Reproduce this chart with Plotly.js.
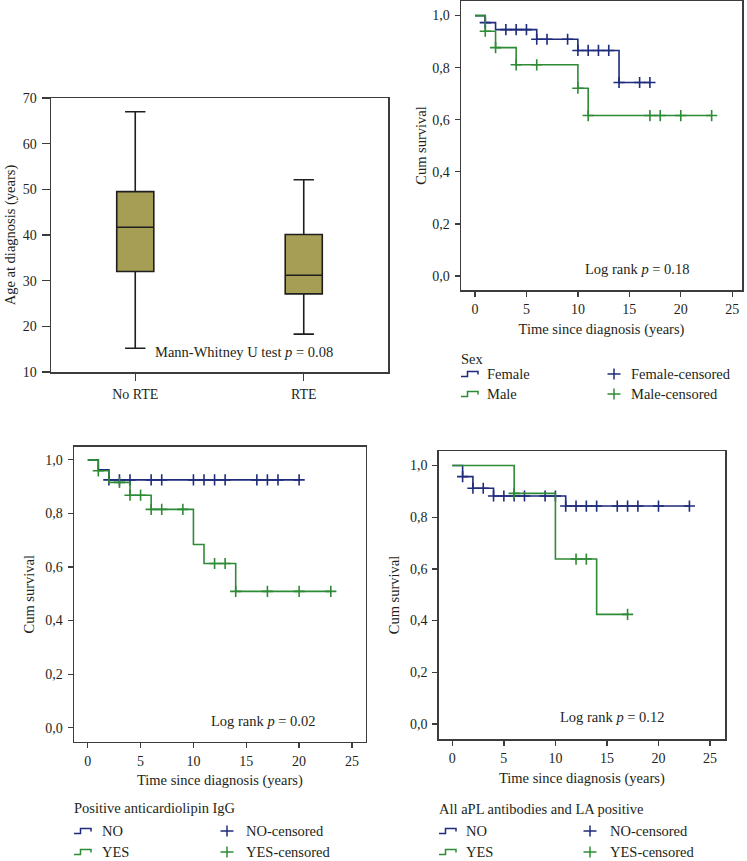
<!DOCTYPE html>
<html>
<head>
<meta charset="utf-8">
<script src="https://cdn.plot.ly/plotly-3.0.1.min.js"></script>
<style>html,body{margin:0;padding:0;background:#fff;}#chart{width:747px;height:861px;}</style>
</head>
<body>
<div id="chart"></div>
<script>
// ---------- DATA ----------
// Panel A: age at diagnosis box plot
const boxCategories = ['No RTE', 'RTE'];
const boxLowerWhisker = [15.2, 18.3];
const boxQ1 = [32.0, 27.1];
const boxMedian = [41.7, 31.2];
const boxQ3 = [49.5, 40.1];
const boxUpperWhisker = [67.0, 52.1];
const boxYTicks = [10, 20, 30, 40, 50, 60, 70];

// Panel B: Sex
const femaleEventTimes = [0, 1, 2, 6, 10, 14];
const femaleSurvival = [1.0, 0.973, 0.946, 0.909, 0.866, 0.743];
const femaleEndTime = 17;
const femaleCensorTimes = [1, 3, 4, 5, 6, 7, 9, 10, 11, 12, 13, 14, 16, 17];
const maleEventTimes = [0, 1, 2, 4, 10, 11];
const maleSurvival = [1.0, 0.940, 0.877, 0.811, 0.721, 0.616];
const maleEndTime = 23;
const maleCensorTimes = [1, 2, 4, 6, 10, 11, 17, 18, 20, 23];

// Panel C: Positive anticardiolipin IgG
const aclNoEventTimes = [0, 1, 2];
const aclNoSurvival = [1.0, 0.963, 0.925];
const aclNoEndTime = 20;
const aclNoCensorTimes = [2, 3, 4, 6, 7, 10, 11, 12, 13, 16, 17, 18, 20];
const aclYesEventTimes = [0, 1, 2, 4, 6, 10, 11, 14];
const aclYesSurvival = [1.0, 0.959, 0.916, 0.868, 0.815, 0.684, 0.613, 0.509];
const aclYesEndTime = 23;
const aclYesCensorTimes = [1, 3, 4, 5, 6, 7, 9, 12, 13, 14, 17, 20, 23];

// Panel D: All aPL antibodies and LA positive
const aplNoEventTimes = [0, 1, 2, 4, 11];
const aplNoSurvival = [1.0, 0.957, 0.912, 0.882, 0.843];
const aplNoEndTime = 23;
const aplNoCensorTimes = [1, 2, 3, 4, 5, 6, 7, 9, 10, 11, 12, 13, 14, 16, 17, 18, 20, 23];
const aplYesEventTimes = [0, 6, 10, 14];
const aplYesSurvival = [1.0, 0.892, 0.638, 0.424];
const aplYesEndTime = 17;
const aplYesCensorTimes = [6, 12, 13, 17];

const kmXTicks = [0, 5, 10, 15, 20, 25];
const kmYTicks = [0, 0.2, 0.4, 0.6, 0.8, 1.0];

// ---------- STYLE ----------
const W = 747, H = 861;
const px = x => x / W;
const py = y => 1 - y / H;
const FONT = 'Liberation Serif, Times New Roman, serif';
const TXT = '#231f20';
const FRAME = '#3c3c3c';
const BLUE = '#1f2b7b';
const GREEN = '#2e8b35';
const BOXFILL = '#a69e54';

function stepAt(times, surv, t) {
  let v = surv[0];
  for (let i = 0; i < times.length; i++) if (times[i] <= t) v = surv[i];
  return v;
}
function kmTraces(times, surv, end, censor, color, xa, ya, name) {
  const xs = times.concat([end]);
  const ys = surv.concat([surv[surv.length - 1]]);
  return [
    {type: 'scatter', mode: 'lines', x: xs, y: ys, xaxis: xa, yaxis: ya, name: name,
     line: {shape: 'hv', color: color, width: 1.6}, hoverinfo: 'skip', showlegend: false},
    {type: 'scatter', mode: 'markers', x: censor, y: censor.map(t => stepAt(times, surv, t)),
     xaxis: xa, yaxis: ya, name: name + '-censored', showlegend: false,
     marker: {symbol: 'cross-thin', size: 8, line: {color: color, width: 1.6}, color: color}}
  ];
}

const traces = [
  {type: 'box', x: boxCategories, q1: boxQ1, median: boxMedian, q3: boxQ3,
   lowerfence: boxLowerWhisker, upperfence: boxUpperWhisker, xaxis: 'x', yaxis: 'y',
   fillcolor: BOXFILL, line: {color: '#1e1e1e', width: 1.6}, width: 0.22, whiskerwidth: 0.55,
   boxpoints: false, showlegend: false, hoverinfo: 'skip'},
  ...kmTraces(femaleEventTimes, femaleSurvival, femaleEndTime, femaleCensorTimes, BLUE, 'x2', 'y2', 'Female'),
  ...kmTraces(maleEventTimes, maleSurvival, maleEndTime, maleCensorTimes, GREEN, 'x2', 'y2', 'Male'),
  ...kmTraces(aclNoEventTimes, aclNoSurvival, aclNoEndTime, aclNoCensorTimes, BLUE, 'x3', 'y3', 'NO'),
  ...kmTraces(aclYesEventTimes, aclYesSurvival, aclYesEndTime, aclYesCensorTimes, GREEN, 'x3', 'y3', 'YES'),
  ...kmTraces(aplNoEventTimes, aplNoSurvival, aplNoEndTime, aplNoCensorTimes, BLUE, 'x4', 'y4', 'NO'),
  ...kmTraces(aplYesEventTimes, aplYesSurvival, aplYesEndTime, aplYesCensorTimes, GREEN, 'x4', 'y4', 'YES')
];

const baseAxis = {
  showline: true, mirror: true, linecolor: FRAME, linewidth: 1.5,
  ticks: 'outside', ticklen: 5, tickwidth: 1.3, tickcolor: FRAME,
  showgrid: false, zeroline: false, fixedrange: true,
  tickfont: {family: FONT, size: 14, color: TXT}
};
const titleFont = {family: FONT, size: 14.5, color: TXT};

function kmX(domain, range, anchor) {
  return Object.assign({}, baseAxis, {domain: domain, range: range, anchor: anchor,
    tickvals: kmXTicks, ticklabelstandoff: 1,
    title: {text: 'Time since diagnosis (years)', font: titleFont, standoff: 7}});
}
function kmY(domain, range, anchor, standoff) {
  return Object.assign({}, baseAxis, {domain: domain, range: range, anchor: anchor,
    tickvals: kmYTicks, tickformat: '.1f', ticklabelstandoff: 2,
    title: {text: 'Cum survival', font: titleFont, standoff: standoff}});
}

const layout = {
  width: W, height: H, margin: {l: 0, r: 0, t: 0, b: 0},
  paper_bgcolor: '#fff', plot_bgcolor: '#fff', separators: ',.',
  font: {family: FONT, size: 14, color: TXT},
  showlegend: false,
  xaxis: Object.assign({}, baseAxis, {domain: [px(51), px(388)], anchor: 'y', type: 'category',
    range: [-0.5, 1.5], ticklen: 7, ticklabelstandoff: 2}),
  yaxis: Object.assign({}, baseAxis, {domain: [py(372), py(98)], anchor: 'x', range: [10, 70],
    tickvals: boxYTicks, ticklen: 8, ticklabelstandoff: 2,
    title: {text: 'Age at diagnosis (years)', font: titleFont, standoff: 3}}),
  xaxis2: kmX([px(461), px(742)], [-1.36, 25.95], 'y2'),
  yaxis2: kmY([py(290), py(1)], [-0.054, 1.056], 'x2', 2),
  xaxis3: kmX([px(74), px(365.7)], [-1.3, 26.3], 'y3'),
  yaxis3: kmY([py(741.7), py(446.7)], [-0.052, 1.049], 'x3', 7),
  xaxis4: kmX([px(438.7), px(725)], [-1.32, 26.45], 'y4'),
  yaxis4: kmY([py(739), py(451)], [-0.058, 1.056], 'x4', 7),
  annotations: [],
  shapes: []
};

function note(text, x, y, anchor) {
  layout.annotations.push({text: text, x: px(x), y: py(y), xref: 'paper', yref: 'paper',
    xanchor: anchor || 'left', yanchor: 'middle', showarrow: false,
    font: {family: FONT, size: 14.5, color: TXT}});
}
function stepSymbol(x0, yc, color) {
  const p = `M ${px(x0)},${py(yc + 2.5)} L ${px(x0 + 6.5)},${py(yc + 2.5)} L ${px(x0 + 6.5)},${py(yc - 2.5)} L ${px(x0 + 17)},${py(yc - 2.5)} L ${px(x0 + 17)},${py(yc + 0.5)}`;
  layout.shapes.push({type: 'path', path: p, xref: 'paper', yref: 'paper', line: {color: color, width: 1.5}});
}
function plusSymbol(cx, yc, color) {
  layout.shapes.push({type: 'line', xref: 'paper', yref: 'paper', x0: px(cx - 6.5), x1: px(cx + 6.5), y0: py(yc), y1: py(yc), line: {color: color, width: 1.5}});
  layout.shapes.push({type: 'line', xref: 'paper', yref: 'paper', x0: px(cx), x1: px(cx), y0: py(yc - 5.5), y1: py(yc + 5.5), line: {color: color, width: 1.5}});
}
function legendBlock(title, x0, yTitle, yRow1, yRow2, names, textX, plusX, censTextX) {
  note(title, x0 - 2, yTitle);
  stepSymbol(x0, yRow1, BLUE); stepSymbol(x0, yRow2, GREEN);
  note(names[0], textX - 2, yRow1); note(names[1], textX - 2, yRow2);
  plusSymbol(plusX, yRow1, BLUE); plusSymbol(plusX, yRow2, GREEN);
  note(names[0] + '-censored', censTextX - 2, yRow1); note(names[1] + '-censored', censTextX - 2, yRow2);
}

note('Mann-Whitney U test <i>p</i> = 0.08', 244, 352, 'center');
note('Log rank <i>p</i> = 0.18', 637, 269, 'center');
note('Log rank <i>p</i> = 0.02', 263, 721, 'center');
note('Log rank <i>p</i> = 0.12', 612, 717, 'center');

legendBlock('Sex', 461, 359, 374, 394, ['Female', 'Male'], 487, 614, 631);
legendBlock('Positive anticardiolipin IgG', 74, 808, 831, 852, ['NO', 'YES'], 102, 227, 246);
legendBlock('All aPL antibodies and LA positive', 439, 809, 831, 852, ['NO', 'YES'], 466, 590, 610);

Plotly.newPlot('chart', traces, layout, {staticPlot: true, displayModeBar: false});
</script>
</body>
</html>
